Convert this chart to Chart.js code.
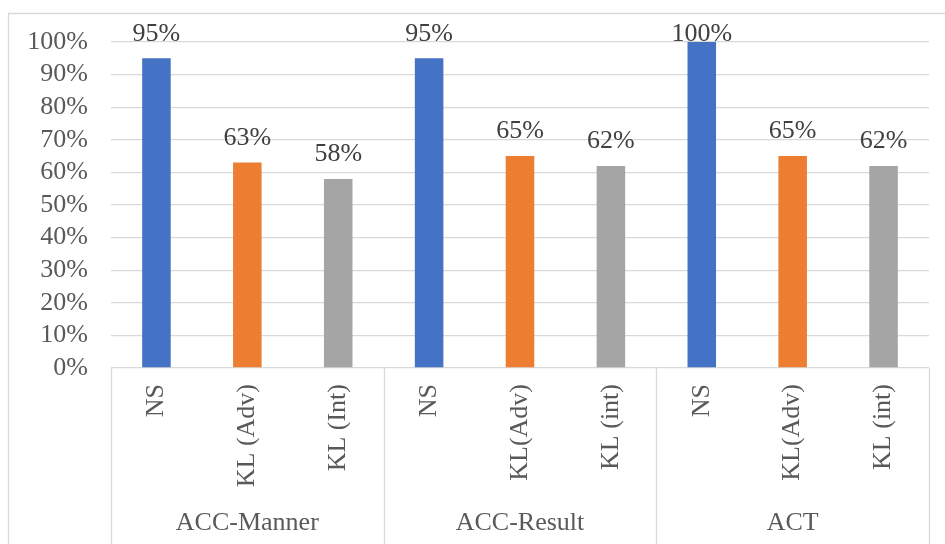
<!DOCTYPE html>
<html>
<head>
<meta charset="utf-8">
<script src="https://cdn.jsdelivr.net/npm/chart.js@4"></script>
<style>
  body { margin: 0; background: #fff; }
  canvas { display: block; }
</style>
</head>
<body>
<canvas id="chart" width="945" height="544"></canvas>
<script>
// Data
const barLabels = ["NS", "KL (Adv)", "KL (Int)", "NS", "KL(Adv)", "KL (int)", "NS", "KL(Adv)", "KL (int)"];
const groupNames = ["ACC-Manner", "ACC-Result", "ACT"];
const groupSize = 3;
const values = [95, 63, 58, 95, 65, 62, 100, 65, 62];
const barColours = ["#4472C4", "#ED7D31", "#A5A5A5"];

const FONT = "'Liberation Serif', 'Times New Roman', serif";
const gridColour = "#d9d9d9";

// Outer frame, group separators and group names
const groupAxis = {
  id: "groupAxis",
  beforeDraw(chart) {
    const ctx = chart.ctx;
    ctx.save();
    ctx.strokeStyle = gridColour;
    ctx.lineWidth = 1.3;
    ctx.beginPath();
    ctx.moveTo(8.5, chart.height);
    ctx.lineTo(8.5, 13.5);
    ctx.lineTo(chart.width, 13.5);
    ctx.stroke();
    ctx.restore();
  },
  afterDraw(chart) {
    const ctx = chart.ctx;
    const x = chart.scales.x;
    const area = chart.chartArea;
    const edges = [area.left];
    for (let g = 1; g < groupNames.length; g++) {
      const i = g * groupSize;
      edges.push((x.getPixelForValue(i - 1) + x.getPixelForValue(i)) / 2);
    }
    edges.push(area.right);

    ctx.save();
    ctx.strokeStyle = gridColour;
    ctx.lineWidth = 1.3;
    edges.forEach((e) => {
      ctx.beginPath();
      ctx.moveTo(Math.round(e) + 0.5, area.bottom);
      ctx.lineTo(Math.round(e) + 0.5, chart.height);
      ctx.stroke();
    });

    ctx.fillStyle = "#595959";
    ctx.font = "26px " + FONT;
    ctx.textAlign = "center";
    ctx.textBaseline = "alphabetic";
    groupNames.forEach((name, g) => {
      ctx.fillText(name, (edges[g] + edges[g + 1]) / 2, 530);
    });
    ctx.restore();
  },
};

// Value labels above the bars
const valueLabels = {
  id: "valueLabels",
  afterDatasetsDraw(chart) {
    const ctx = chart.ctx;
    const meta = chart.getDatasetMeta(0);
    ctx.save();
    ctx.fillStyle = "#404040";
    ctx.font = "26px " + FONT;
    ctx.textAlign = "center";
    ctx.textBaseline = "alphabetic";
    meta.data.forEach((bar, i) => {
      const y = Math.max(bar.y - 18, 41);
      ctx.fillText(values[i] + "%", bar.x, y);
    });
    ctx.restore();
  },
};

new Chart(document.getElementById("chart"), {
  type: "bar",
  data: {
    labels: barLabels,
    datasets: [
      {
        data: values,
        backgroundColor: barLabels.map((_, i) => barColours[i % barColours.length]),
        barPercentage: 0.314,
        categoryPercentage: 1,
      },
    ],
  },
  options: {
    responsive: false,
    animation: false,
    layout: { padding: { top: 42, right: 16, left: 0, bottom: 0 } },
    plugins: {
      legend: { display: false },
      tooltip: { enabled: false },
    },
    scales: {
      x: {
        grid: { display: false },
        border: { display: false },
        ticks: {
          color: "#595959",
          font: { family: FONT, size: 26 },
          minRotation: 90,
          maxRotation: 90,
          autoSkip: false,
          padding: 8,
        },
        afterFit(scale) {
          scale.height = 176;
        },
      },
      y: {
        min: 0,
        max: 100,
        grid: { color: gridColour, lineWidth: 1.3, drawTicks: false },
        border: { display: false },
        ticks: {
          stepSize: 10,
          autoSkip: false,
          color: "#595959",
          font: { family: FONT, size: 26 },
          padding: 23,
          callback: (v) => v + "%",
        },
        afterFit(scale) {
          scale.width = 111;
        },
      },
    },
  },
  plugins: [groupAxis, valueLabels],
});
</script>
</body>
</html>
